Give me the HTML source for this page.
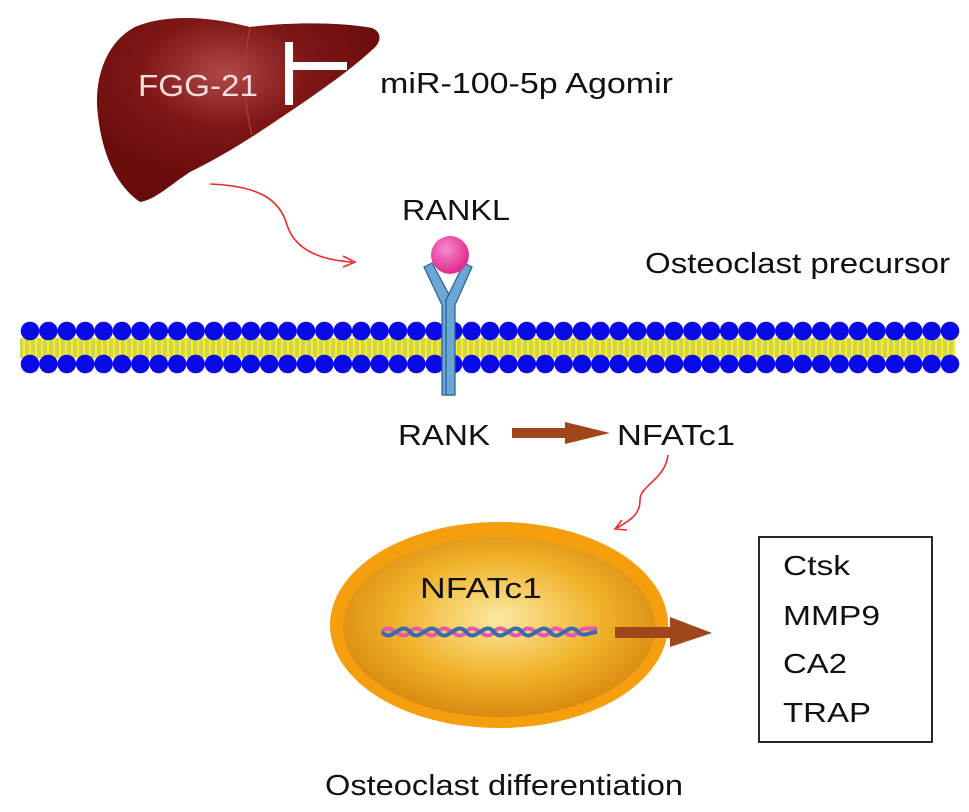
<!DOCTYPE html>
<html><head><style>body{margin:0;background:#fff}svg{display:block}text{font-family:"Liberation Sans",Arial,sans-serif}</style></head><body>
<svg width="969" height="812" viewBox="0 0 969 812" xmlns="http://www.w3.org/2000/svg">
<defs>
<radialGradient id="liv" cx="0.45" cy="0.3" r="0.6"><stop offset="0" stop-color="#b04848"/><stop offset="0.5" stop-color="#7e1616"/><stop offset="1" stop-color="#6a0c0c"/></radialGradient>
<radialGradient id="nuc" cx="0.5" cy="0.45" r="0.55"><stop offset="0" stop-color="#fde9a0"/><stop offset="0.6" stop-color="#f0b22a"/><stop offset="1" stop-color="#d98a10"/></radialGradient>
<radialGradient id="ball" cx="0.4" cy="0.35" r="0.6"><stop offset="0" stop-color="#f98ad0"/><stop offset="1" stop-color="#e0308f"/></radialGradient>
<pattern id="yl" width="6" height="22" patternUnits="userSpaceOnUse"><rect width="6" height="22" fill="#f7f01c"/><line x1="2" y1="0" x2="2" y2="22" stroke="#9aa" stroke-width="0.8"/><line x1="4" y1="0" x2="4" y2="22" stroke="#9aa" stroke-width="0.8"/></pattern>
</defs>
<!-- liver -->
<path d="M140,202 C115,185 100,150 97,105 C96,70 110,40 135,27 C160,16 200,14 250,27 C290,22 340,22 372,28 C382,32 382,42 372,50 C345,75 300,105 270,125 C245,142 215,160 190,172 C170,185 155,200 140,202 Z" fill="url(#liv)"/>
<path d="M250,28 C243,60 243,100 252,135" stroke="#a04040" stroke-width="1.2" fill="none"/>
<text x="138" y="96" font-size="31" fill="#f3dede" textLength="120" lengthAdjust="spacingAndGlyphs">FGG-21</text>
<rect x="285" y="42" width="8" height="63" fill="#fff"/>
<rect x="292" y="62" width="55" height="8" fill="#fff"/>
<text x="380" y="93" font-size="29" fill="#111" textLength="293" lengthAdjust="spacingAndGlyphs">miR-100-5p Agomir</text>
<!-- red arrow 1 -->
<path d="M210,184 C260,186 280,200 287,225 C295,250 320,260 352,262" stroke="#ee2a2a" stroke-width="1.6" fill="none"/>
<path d="M343,256 L355,262 L343,267" stroke="#ee2a2a" stroke-width="1.6" fill="none"/>
<text x="402" y="220" font-size="29" fill="#111" textLength="108" lengthAdjust="spacingAndGlyphs">RANKL</text>
<text x="645" y="273" font-size="29" fill="#111" textLength="305" lengthAdjust="spacingAndGlyphs">Osteoclast precursor</text>
<!-- membrane -->
<rect x="20" y="338" width="935" height="20" fill="url(#yl)"/>
<g fill="#0a0ae8" id="row"></g>
<!-- receptor -->
<g id="rec" stroke="#2a5f8a" stroke-width="1.2" fill="#6aa6d6">
<path d="M424,267 L432,263 L452,300 L452,395 L442,395 L442,305 Z"/>
<path d="M472,267 L464,263 L446,300 L446,395 L455,395 L455,305 Z"/>
</g>
<circle cx="450" cy="255" r="19" fill="url(#ball)"/>
<text x="398" y="445" font-size="29" fill="#111" textLength="92" lengthAdjust="spacingAndGlyphs">RANK</text>
<polygon points="512,428 565,428 565,422 610,433 565,444 565,438 512,438" fill="#a0461c"/>
<text x="617" y="445" font-size="29" fill="#111" textLength="118" lengthAdjust="spacingAndGlyphs">NFATc1</text>
<!-- red arrow 2 -->
<path d="M668,455 C665,480 640,485 640,500 C640,515 630,520 617,528" stroke="#ee2a2a" stroke-width="1.6" fill="none"/>
<path d="M622,520 L615,529 L627,530" stroke="#ee2a2a" stroke-width="1.6" fill="none"/>
<!-- nucleus -->
<ellipse cx="499" cy="625" rx="169" ry="103" fill="#f59e0e"/>
<ellipse cx="499" cy="627" rx="156" ry="90" fill="url(#nuc)"/>
<text x="420" y="598" font-size="29" fill="#111" textLength="122" lengthAdjust="spacingAndGlyphs">NFATc1</text>
<g stroke-width="4" fill="none">
<path d="M382,632 C392,620 400,644 410,632 C420,620 428,644 438,632 C448,620 456,644 466,632 C476,620 484,644 494,632 C504,620 512,644 522,632 C532,620 540,644 550,632 C560,620 568,644 578,632 C584,626 590,630 597,628" stroke="#e05aa8"/>
<path d="M382,632 C392,644 400,620 410,632 C420,644 428,620 438,632 C448,644 456,620 466,632 C476,644 484,620 494,632 C504,644 512,620 522,632 C532,644 540,620 550,632 C560,644 568,620 578,632 C584,638 590,632 597,632" stroke="#3a6ab0"/>
</g>
<polygon points="615,627 670,627 670,617 712,633 670,647 670,638 615,638" fill="#a0461c"/>
<rect x="759" y="537" width="173" height="205" fill="#fff" stroke="#111" stroke-width="1.8"/>
<text x="783" y="575" font-size="28" fill="#111" textLength="67" lengthAdjust="spacingAndGlyphs">Ctsk</text>
<text x="783" y="625" font-size="28" fill="#111" textLength="97" lengthAdjust="spacingAndGlyphs">MMP9</text>
<text x="783" y="673" font-size="28" fill="#111" textLength="64" lengthAdjust="spacingAndGlyphs">CA2</text>
<text x="783" y="722" font-size="28" fill="#111" textLength="88" lengthAdjust="spacingAndGlyphs">TRAP</text>
<text x="325" y="795" font-size="29" fill="#111" textLength="358" lengthAdjust="spacingAndGlyphs">Osteoclast differentiation</text>
</svg>
<script>
var g=document.getElementById('row'),ns='http://www.w3.org/2000/svg';
for(var i=0;i<51;i++){var x=30+i*18.4;[331,364].forEach(function(y){var c=document.createElementNS(ns,'circle');c.setAttribute('cx',x);c.setAttribute('cy',y);c.setAttribute('r',9.3);g.appendChild(c);});}
</script>
</body></html>
